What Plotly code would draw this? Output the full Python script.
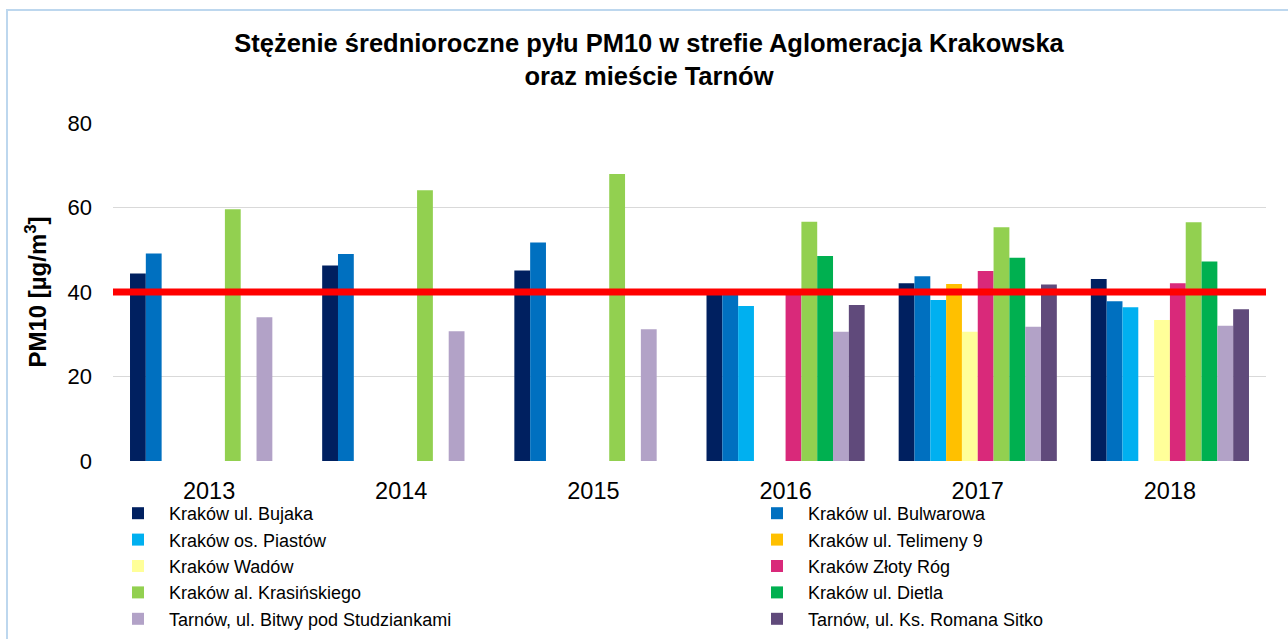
import plotly.graph_objects as go

years = ["2013", "2014", "2015", "2016", "2017", "2018"]

series_names = [
    "Kraków ul. Bujaka",
    "Kraków ul. Bulwarowa",
    "Kraków os. Piastów",
    "Kraków ul. Telimeny 9",
    "Kraków Wadów",
    "Kraków Złoty Róg",
    "Kraków al. Krasińskiego",
    "Kraków ul. Dietla",
    "Tarnów, ul. Bitwy pod Studziankami",
    "Tarnów, ul. Ks. Romana Sitko",
]

bujaka = [44.4, 46.3, 45.1, 40.0, 42.1, 43.1]
bulwarowa = [49.1, 49.0, 51.7, 39.5, 43.7, 37.8]
piastow = [None, None, None, 36.7, 38.1, 36.4]
telimeny = [None, None, None, None, 41.9, None]
wadow = [None, None, None, None, 30.6, 33.4]
zloty_rog = [None, None, None, 40.0, 45.0, 42.1]
krasinskiego = [59.6, 64.1, 67.9, 56.6, 55.3, 56.5]
dietla = [None, None, None, 48.5, 48.1, 47.2]
bitwy = [34.0, 30.7, 31.2, 30.6, 31.8, 32.0]
sitko = [None, None, None, 36.9, 41.8, 35.9]

limit_value = 40
y_ticks = [0, 20, 40, 60, 80]

series_values = [bujaka, bulwarowa, piastow, telimeny, wadow,
                 zloty_rog, krasinskiego, dietla, bitwy, sitko]
colors = ["#002060", "#0070C0", "#00B0F0", "#FFC000", "#FFFF99",
          "#D9297A", "#92D050", "#00B050", "#B2A2C7", "#604A7B"]

# plot-area geometry (pixels)
L, R, T, B = 113, 1266, 123, 461
pw, ph = R - L, B - T
def px(x):
    return (x - L) / pw
def py(y):
    return (B - y) / ph

fig = go.Figure()
for i, (name, vals, col) in enumerate(zip(series_names, series_values, colors)):
    fig.add_trace(go.Bar(x=years, y=vals, name=name,
                         marker=dict(color=col, line=dict(width=0)),
                         legend="legend" if i % 2 == 0 else "legend2"))

fig.add_shape(type="line", xref="paper", yref="y", x0=0, x1=1,
              y0=limit_value, y1=limit_value,
              line=dict(color="#FF0000", width=7), layer="above")

# chart border (light blue)
fig.add_shape(type="rect", xref="paper", yref="paper",
              x0=px(7), x1=px(1300), y0=py(10), y1=py(650),
              line=dict(color="#BDD7EE", width=2), layer="below")

font_family = "Liberation Sans, Arial, sans-serif"

legend_common = dict(orientation="v", yanchor="top", yref="paper",
                     xanchor="left", itemwidth=52,
                     font=dict(size=18, family=font_family),
                     tracegroupgap=0, traceorder="normal",
                     bgcolor="rgba(0,0,0,0)", borderwidth=0)

fig.update_layout(
    width=1288, height=639,
    paper_bgcolor="white", plot_bgcolor="white",
    margin=dict(l=L, r=1288 - R, t=T, b=639 - B, autoexpand=False),
    barmode="group", bargap=0.177, bargroupgap=0,
    font=dict(family=font_family, color="#000000", size=21),
    title=dict(
        text="<b>Stężenie średnioroczne pyłu PM10 w strefie Aglomeracja Krakowska<br>oraz mieście Tarnów</b>",
        x=649 / 1288, xanchor="center", xref="container",
        y=1 - 51.5 / 639, yanchor="middle", yref="container",
        font=dict(size=25.5, family=font_family, color="#000000"),
    ),
    xaxis=dict(type="category", showgrid=False, showline=False,
               ticks="", tickfont=dict(size=23.5), ticklabelstandoff=13),
    yaxis=dict(range=[0, 80], tickvals=y_ticks, showgrid=True,
               gridcolor="#D9D9D9", gridwidth=1.3, zeroline=False,
               showline=False, ticks="", tickfont=dict(size=22),
               ticklabelstandoff=20,
               title=dict(text="<b>PM10 [µg/m<sup>3</sup>]</b>",
                          font=dict(size=24), standoff=14)),
    legend=dict(x=px(107), y=py(495), **legend_common),
    legend2=dict(x=px(746), y=py(495), **legend_common),
    showlegend=True,
)

fig.write_html("out.html",
               config={"displayModeBar": False},
               post_script="document.body.style.margin='0';document.body.style.overflow='hidden';")
